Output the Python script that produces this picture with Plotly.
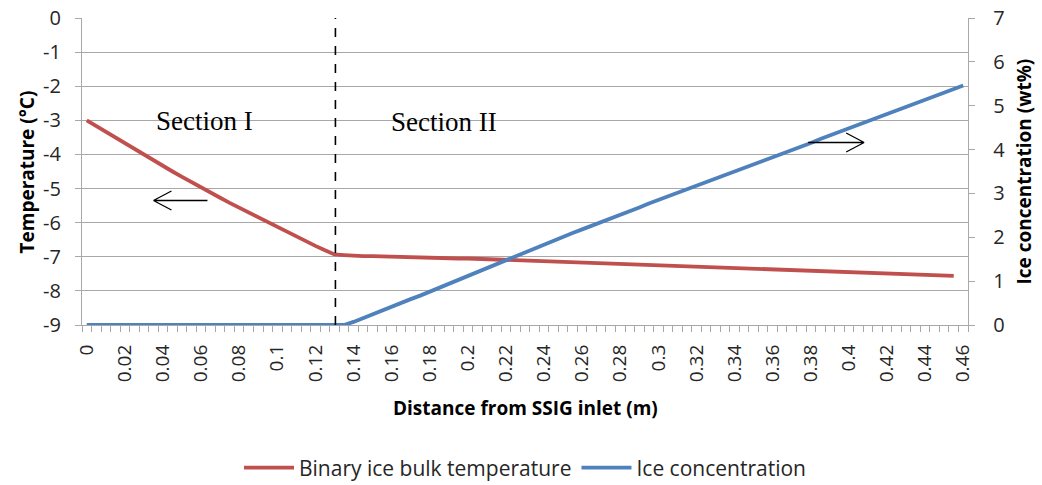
import plotly.graph_objects as go

# Distance categories (m), one every 0.005 m
distance = [
    0.0, 0.005, 0.01, 0.015, 0.02, 0.025, 0.03, 0.035, 0.04, 0.045,
    0.05, 0.055, 0.06, 0.065, 0.07, 0.075, 0.08, 0.085, 0.09, 0.095,
    0.1, 0.105, 0.11, 0.115, 0.12, 0.125, 0.13, 0.135, 0.14, 0.145,
    0.15, 0.155, 0.16, 0.165, 0.17, 0.175, 0.18, 0.185, 0.19, 0.195,
    0.2, 0.205, 0.21, 0.215, 0.22, 0.225, 0.23, 0.235, 0.24, 0.245,
    0.25, 0.255, 0.26, 0.265, 0.27, 0.275, 0.28, 0.285, 0.29, 0.295,
    0.3, 0.305, 0.31, 0.315, 0.32, 0.325, 0.33, 0.335, 0.34, 0.345,
    0.35, 0.355, 0.36, 0.365, 0.37, 0.375, 0.38, 0.385, 0.39, 0.395,
    0.4, 0.405, 0.41, 0.415, 0.42, 0.425, 0.43, 0.435, 0.44, 0.445,
    0.45, 0.455, 0.46,
]

# Binary ice bulk temperature (°C), 0 .. 0.455 m
temperature = [
    -3.00, -3.17, -3.34, -3.51, -3.68, -3.85, -4.02, -4.18, -4.34, -4.50,
    -4.66, -4.82, -4.97, -5.12, -5.27, -5.42, -5.56, -5.71, -5.86, -6.00,
    -6.14, -6.28, -6.42, -6.55, -6.68, -6.81, -6.93, -6.95, -6.97, -6.98,
    -6.98, -6.99, -7.00, -7.00, -7.01, -7.02, -7.02, -7.03, -7.04, -7.05,
    -7.05, -7.06, -7.07, -7.08, -7.09, -7.10, -7.11, -7.12, -7.13, -7.14,
    -7.15, -7.15, -7.16, -7.17, -7.18, -7.19, -7.20, -7.21, -7.22, -7.23,
    -7.24, -7.25, -7.26, -7.27, -7.28, -7.29, -7.30, -7.31, -7.32, -7.33,
    -7.34, -7.35, -7.36, -7.37, -7.38, -7.39, -7.40, -7.41, -7.42, -7.43,
    -7.44, -7.45, -7.46, -7.47, -7.48, -7.49, -7.50, -7.51, -7.52, -7.53,
    -7.545, -7.56,
]

# Ice concentration (wt%), 0 .. 0.46 m
ice_concentration = [
    0, 0, 0, 0, 0, 0, 0, 0, 0, 0,
    0, 0, 0, 0, 0, 0, 0, 0, 0, 0,
    0, 0, 0, 0, 0, 0, 0, 0, 0.07, 0.16,
    0.25, 0.33, 0.42, 0.50, 0.59, 0.67, 0.76, 0.85, 0.94, 1.03,
    1.12, 1.21, 1.30, 1.40, 1.49, 1.58, 1.67, 1.76, 1.85, 1.93,
    2.01, 2.10, 2.18, 2.26, 2.34, 2.42, 2.51, 2.59, 2.68, 2.77,
    2.85, 2.93, 3.02, 3.10, 3.18, 3.26, 3.34, 3.42, 3.50, 3.58,
    3.66, 3.74, 3.82, 3.90, 3.99, 4.07, 4.15, 4.24, 4.32, 4.40,
    4.49, 4.57, 4.65, 4.73, 4.81, 4.89, 4.97, 5.05, 5.13, 5.21,
    5.29, 5.38, 5.46,
]

x_tick_vals = [0, 0.02, 0.04, 0.06, 0.08, 0.1, 0.12, 0.14, 0.16, 0.18, 0.2, 0.22,
               0.24, 0.26, 0.28, 0.3, 0.32, 0.34, 0.36, 0.38, 0.4, 0.42, 0.44, 0.46]
x_tick_text = ["0", "0.02", "0.04", "0.06", "0.08", "0.1", "0.12", "0.14", "0.16", "0.18",
               "0.2", "0.22", "0.24", "0.26", "0.28", "0.3", "0.32", "0.34", "0.36",
               "0.38", "0.4", "0.42", "0.44", "0.46"]
y_tick_vals = [0, -1, -2, -3, -4, -5, -6, -7, -8, -9]
y_tick_text = ["0", "-1", "-2", "-3", "-4", "-5", "-6", "-7", "-8", "-9"]
y2_tick_vals = [0, 1, 2, 3, 4, 5, 6, 7]
y2_tick_text = ["0", "1", "2", "3", "4", "5", "6", "7"]
section_boundary = 0.1305

FONT = "Open Sans"
TXT = "#262626"
GRID = "#a8a8a8"

fig = go.Figure()
fig.add_trace(go.Scatter(
    x=distance[:len(temperature)], y=temperature, mode="lines",
    name="Binary ice bulk temperature",
    line=dict(color="#C0504D", width=3.8), yaxis="y"))
fig.add_trace(go.Scatter(
    x=distance, y=ice_concentration, mode="lines",
    name="Ice concentration",
    line=dict(color="#4F81BD", width=3.8), yaxis="y2"))

fig.update_layout(
    width=1042, height=485,
    margin=dict(l=82, r=74, t=18, b=160, autoexpand=False),
    plot_bgcolor="white", paper_bgcolor="white",
    font=dict(family=FONT, size=19, color=TXT),
    showlegend=True,
    legend=dict(orientation="h", x=0.5, xanchor="center", y=-0.466, yanchor="middle",
                font=dict(family=FONT, size=21, color=TXT), itemwidth=50,
                tracegroupgap=0),
    xaxis=dict(
        range=[-0.0025, 0.4625], tickmode="array", tickvals=x_tick_vals,
        ticktext=x_tick_text, tickangle=-90, ticks="", showgrid=False,
        showline=True, linecolor=GRID, linewidth=1.3, automargin=False,
        ticklabelstandoff=11, zeroline=False,
        minor=dict(tick0=-0.0025, dtick=0.005, ticks="outside", ticklen=6,
                   tickcolor=GRID, tickwidth=1, showgrid=False),
        tickfont=dict(family=FONT, size=19, color=TXT),
    ),
    yaxis=dict(
        range=[-9, 0], tickmode="array", tickvals=y_tick_vals, ticktext=y_tick_text,
        showgrid=True, gridcolor=GRID, gridwidth=1.3, automargin=False,
        zeroline=False, showline=True, linecolor=GRID, linewidth=1.3,
        ticks="outside", ticklen=6, tickcolor=GRID, ticklabelstandoff=10,
        tickfont=dict(family=FONT, size=20, color=TXT),
    ),
    yaxis2=dict(
        range=[0, 7], tickmode="array", tickvals=y2_tick_vals, ticktext=y2_tick_text,
        overlaying="y", side="right", showgrid=False, automargin=False,
        zeroline=False, showline=True, linecolor=GRID, linewidth=1.3,
        ticks="outside", ticklen=6, tickcolor=GRID, ticklabelstandoff=14,
        tickfont=dict(family=FONT, size=20, color=TXT),
    ),
)

# Section boundary (dashed line)
fig.add_shape(type="line", xref="x", yref="paper", x0=section_boundary, x1=section_boundary,
              y0=0, y1=1, line=dict(color="black", width=1.6, dash="dash"))

# Arrows pointing to the relevant axes
fig.add_shape(type="path", xref="x", yref="y", xsizemode="pixel", ysizemode="pixel",
              xanchor=0.035, yanchor=-5.35,
              path="M0,0 L54,0 M0,0 L18,9.5 M0,0 L18,-9.5",
              line=dict(color="black", width=1.3))
fig.add_shape(type="path", xref="x", yref="y", xsizemode="pixel", ysizemode="pixel",
              xanchor=0.408, yanchor=-3.65,
              path="M0,0 L-56,0 M0,0 L-18,9.5 M0,0 L-18,-9.5",
              line=dict(color="black", width=1.3))

ann = [
    dict(text="Section I", x=0.1377, y=0.6645, font=dict(family="Liberation Serif", size=27, color="black")),
    dict(text="Section II", x=0.4091, y=0.661, font=dict(family="Liberation Serif", size=27, color="black")),
    dict(text="<b>Temperature (°C)</b>", x=-0.0621, y=0.5, textangle=-90,
         font=dict(family=FONT, size=19, color="black")),
    dict(text="<b>Ice concentration (wt%)</b>", x=1.0621, y=0.5, textangle=-90,
         font=dict(family=FONT, size=19, color="black")),
    dict(text="<b>Distance from SSIG inlet (m)</b>", x=0.5, y=-0.270,
         font=dict(family=FONT, size=19, color="black")),
]
for a in ann:
    fig.add_annotation(xref="paper", yref="paper", showarrow=False,
                       xanchor="center", yanchor="middle", **a)

fig.write_html("out.html")
